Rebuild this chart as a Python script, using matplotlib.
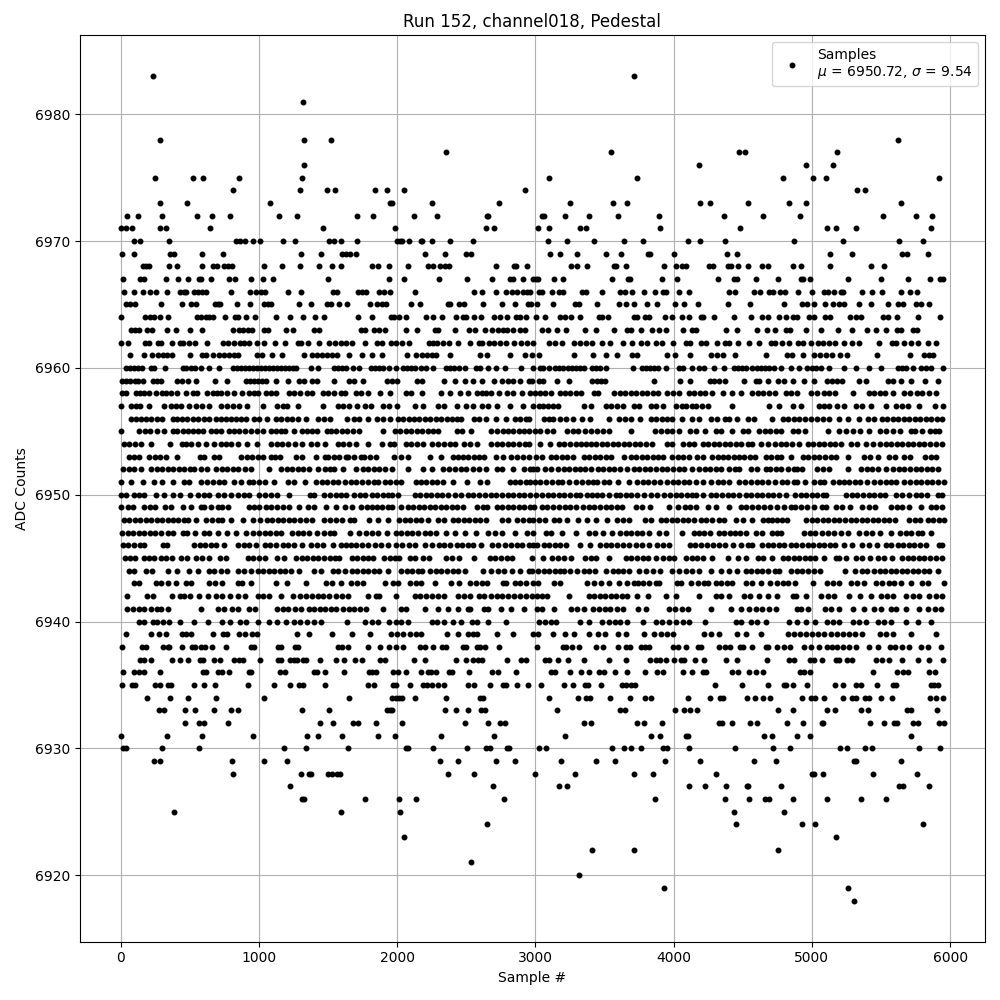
import matplotlib
matplotlib.use('Agg')
import matplotlib.pyplot as plt

# sample numbers, one list per ADC level
s6983 = [236, 3713]
s6981 = [1321]
s6978 = [280, 1328, 1523, 5622]
s6977 = [2355, 3547, 4473, 4516, 5181]
s6976 = [1328, 4183, 4957, 5152]
s6975 = [250, 525, 598, 858, 1313, 3099, 3735, 4790, 5007, 5101, 5918]
s6974 = [815, 1299, 1494, 1552, 1841, 1928, 2051, 2926, 5326, 5384]
s6973 = [280, 482, 1082, 1950, 1964, 2253, 2738, 3251, 3562, 3663, 4190, 4263, 4537, 4834, 4957, 5644]
s6972 = [48, 128, 301, 554, 663, 793, 1147, 1277, 1711, 1827, 2123, 2290, 2651, 2658, 3048, 3063, 3214, 3388,
         3598, 3894, 4364, 4646, 4914, 5514, 5752, 5868]
s6971 = [5, 34, 84, 287, 330, 648, 1465, 1986, 2644, 2697, 3019, 3099, 3323, 3366, 3901, 4480, 5109, 5174, 5318, 5861]
s6970 = [92, 142, 352, 836, 865, 901, 959, 1010, 1176, 1263, 1509, 1545, 1595, 1711, 2000, 2022, 2036, 2087, 2169,
         2181, 2253, 2383, 2550, 3092, 3229, 3424, 3641, 3778, 4104, 4190, 4371, 4870, 5224, 5629, 5805]
s6969 = [12, 99, 359, 388, 590, 740, 1306, 1451, 1603, 1631, 1660, 1704, 2203, 2347, 2499, 2535, 3106, 3178, 3301,
         3511, 3619, 3814, 3828, 4003, 4386, 4458, 5130, 5290, 5651, 5687, 5841]
s6968 = [157, 185, 205, 352, 410, 590, 670, 699, 750, 778, 807, 1039, 1169, 1299, 1436, 1530, 1595, 1820, 1863, 1942,
         2080, 2224, 2260, 2311, 2347, 2376, 2716, 2846, 2861, 2940, 3258, 3301, 3373, 3569, 3583, 3655, 3930, 4017,
         4060, 4089, 4256, 4285, 4393, 4415, 4465, 4537, 4639, 4682, 4862, 4921, 5130, 5427, 5521]
s6967 = [19, 142, 171, 330, 417, 489, 569, 583, 655, 786, 824, 945, 1031, 1104, 1501, 1942, 2051, 2304, 2506, 2687,
         2817, 2839, 2911, 2983, 3005, 3019, 3135, 3200, 3554, 3670, 3684, 3916, 4024, 4321, 4436, 4458, 4595, 4755,
         4921, 4935, 4986, 5261, 5499, 5694, 5853, 5925, 5947]
s6966 = [26, 99, 164, 214, 258, 337, 431, 460, 475, 532, 561, 590, 619, 800, 937, 980, 1017, 1046, 1212, 1306, 1537,
         1566, 1718, 1747, 1776, 1870, 1906, 1950, 2130, 2557, 2615, 2716, 2788, 2832, 2868, 2911, 2940, 2964, 3027,
         3048, 3120, 3171, 3200, 3337, 3366, 3482, 3612, 3648, 3699, 3786, 3866, 3923, 3945, 4039, 4111, 4400, 4443,
         4581, 4624, 4689, 4718, 4769, 4805, 4899, 5000, 5087, 5116, 5159, 5210, 5224, 5362, 5434, 5506, 5644,
         5709, 5760]
s6965 = [34, 63, 106, 294, 446, 511, 547, 684, 706, 720, 843, 937, 1039, 1068, 1089, 1292, 1378, 1494, 1523, 1581,
         1639, 1805, 1856, 1892, 1921, 2101, 2166, 2369, 2383, 2448, 2485, 2622, 2759, 2853, 2947, 2971, 3012, 3128,
         3287, 3316, 3446, 3605, 3655, 3713, 3807, 3880, 4010, 4075, 4176, 4393, 4552, 4798, 4928, 4964, 5015, 5094,
         5152, 5195, 5232, 5340, 5427, 5550, 5622, 5658, 5752, 5788, 5846]
s6964 = [5, 178, 214, 243, 280, 345, 554, 583, 619, 641, 670, 757, 829, 851, 908, 974, 1125, 1227, 1321, 1407, 1472,
         1718, 1820, 1957, 1978, 2015, 2065, 2210, 2260, 2326, 2427, 2477, 2499, 2557, 2608, 2701, 2745, 2796, 2861,
         2889, 2933, 3005, 3070, 3178, 3214, 3258, 3323, 3460, 3482, 3525, 3713, 3735, 3793, 3822, 3937, 3988, 4060,
         4111, 4198, 4212, 4292, 4436, 4559, 4639, 4682, 4762, 4812, 4863, 4892, 4979, 5015, 5094, 5130, 5275, 5318,
         5355, 5514, 5550, 5615, 5767, 5925]
s6963 = [77, 106, 135, 193, 229, 337, 402, 504, 590, 815, 858, 887, 923, 952, 1039, 1068, 1198, 1248, 1400, 1436,
         1740, 1769, 1834, 1870, 1913, 2065, 2145, 2275, 2297, 2420, 2521, 2564, 2637, 2687, 2730, 2767, 2796, 2839,
         2889, 2926, 3048, 3092, 3157, 3222, 3359, 3439, 3569, 3663, 3692, 3764, 3843, 3894, 3945, 4068, 4133, 4161,
         4378, 4458, 4603, 4675, 4733, 4812, 4841, 4957, 5065, 5188, 5290, 5398, 5463, 5535, 5615, 5644, 5730, 5760]
s6962 = [5, 55, 178, 207, 272, 294, 373, 431, 453, 496, 540, 627, 742, 778, 822, 865, 894, 930, 988, 1039, 1118, 1190,
         1284, 1306, 1357, 1436, 1509, 1552, 1595, 1631, 1675, 1769, 1856, 1892, 1957, 1993, 2036, 2087, 2232, 2260,
         2290, 2333, 2376, 2441, 2528, 2593, 2615, 2665, 2701, 2745, 2788, 2846, 2897, 2940, 2983, 3099, 3142, 3190,
         3280, 3323, 3366, 3410, 3482, 3540, 3634, 3699, 3764, 3807, 3872, 3916, 3995, 4089, 4118, 4198, 4234, 4314,
         4371, 4400, 4465, 4545, 4617, 4704, 4733, 4783, 4834, 4899, 4935, 4993, 5044, 5080, 5123, 5166, 5232, 5290,
         5340, 5485, 5579, 5608, 5665, 5716, 5767, 5839, 5897]
s6961 = [70, 171, 229, 272, 308, 337, 373, 504, 590, 619, 670, 713, 750, 786, 822, 851, 988, 1024, 1096, 1169, 1328,
         1385, 1422, 1458, 1494, 1530, 1566, 1653, 1747, 1820, 1892, 2072, 2133, 2181, 2217, 2253, 2282, 2383, 2600,
         2651, 2817, 2926, 2976, 3027, 3280, 3417, 3511, 3590, 3699, 3735, 3952, 4010, 4118, 4270, 4314, 4357, 4443,
         4667, 4820, 4856, 4935, 5015, 5058, 5101, 5145, 5203, 5253, 5470, 5709, 5810, 5846, 5875]
s6960 = [36, 65, 95, 125, 152, 217, 241, 319, 447, 475, 505, 535, 580, 640, 712, 809, 838, 867, 896, 925, 954, 983,
         1012, 1041, 1070, 1099, 1128, 1157, 1186, 1215, 1244, 1268, 1377, 1425, 1541, 1570, 1600, 1630, 1680, 1727,
         1811, 1840, 1870, 1900, 1944, 1992, 2041, 2070, 2100, 2130, 2170, 2210, 2258, 2354, 2384, 2414, 2450, 2487,
         2572, 2600, 2656, 2717, 2777, 2898, 2981, 3036, 3053, 3097, 3145, 3174, 3203, 3232, 3261, 3290, 3319, 3348,
         3411, 3440, 3469, 3507, 3708, 3773, 3802, 3831, 3860, 3890, 3942, 4038, 4067, 4135, 4183, 4220, 4292, 4364,
         4437, 4466, 4495, 4524, 4570, 4606, 4635, 4664, 4693, 4727, 4775, 4847, 4908, 4968, 5000, 5030, 5065, 5125,
         5234, 5318, 5415, 5500, 5620, 5650, 5680, 5729, 5789, 5825, 5862, 5946]
s6959 = [12, 40, 70, 100, 128, 160, 230, 260, 290, 410, 440, 485, 543, 681, 766, 906, 936, 965, 995, 1024, 1053, 1123,
         1210, 1292, 1328, 1385, 1422, 1545, 1654, 1690, 1750, 1929, 1960, 2000, 2140, 2176, 2335, 2420, 2490, 2550,
         2610, 2700, 2760, 2800, 2840, 2886, 2955, 2975, 3025, 3055, 3157, 3242, 3410, 3445, 3475, 3505, 3860, 4043,
         4120, 4260, 4290, 4330, 4375, 4510, 4594, 4619, 4686, 4758, 4799, 4860, 4944, 5015, 5113, 5145, 5180, 5220,
         5342, 5390, 5550, 5590, 5645, 5717, 5818, 5915]
s6958 = [12, 36, 109, 139, 169, 205, 256, 300, 330, 360, 403, 470, 520, 550, 627, 665, 695, 725, 765, 820, 880, 925,
         965, 990, 1054, 1090, 1125, 1220, 1255, 1300, 1345, 1385, 1460, 1500, 1545, 1590, 1620, 1700, 1740, 1785,
         1872, 1945, 2062, 2100, 2176, 2320, 2380, 2454, 2510, 2575, 2610, 2645, 2680, 2735, 2795, 2840, 2905, 2960,
         3000, 3036, 3072, 3110, 3180, 3215, 3250, 3290, 3330, 3425, 3455, 3570, 3610, 3650, 3690, 3730, 3770, 3810,
         3850, 3890, 3950, 3995, 4040, 4110, 4150, 4190, 4230, 4275, 4360, 4420, 4485, 4570, 4610, 4650, 4690, 4735,
         4810, 4850, 4895, 4995, 5040, 5085, 5125, 5165, 5295, 5415, 5450, 5490, 5530, 5585, 5670, 5710, 5760, 5800,
         5850, 5895]
s6957 = [0, 72, 109, 140, 205, 315, 365, 400, 435, 495, 545, 590, 640, 725, 770, 815, 852, 915, 1030, 1130, 1170, 1205,
         1280, 1460, 1570, 1610, 1650, 1710, 1765, 1810, 1900, 1940, 2000, 2125, 2185, 2295, 2335, 2430, 2500, 2545,
         2610, 2660, 2720, 2815, 2910, 2985, 3025, 3055, 3090, 3125, 3160, 3350, 3405, 3510, 3550, 3590, 3630, 3715,
         3750, 3835, 3870, 3920, 4015, 4060, 4090, 4135, 4160, 4205, 4250, 4425, 4690, 4760, 4860, 4920, 5055, 5090,
         5125, 5185, 5235, 5320, 5365, 5430, 5535, 5610, 5650, 5695, 5775, 5890, 5950]
s6956 = [77, 110, 145, 185, 220, 260, 300, 375, 410, 445, 480, 520, 560, 600, 640, 690, 725, 760, 800, 835, 870, 905,
         965, 1000, 1060, 1125, 1160, 1200, 1240, 1280, 1340, 1430, 1470, 1515, 1640, 1690, 1725, 1790, 1855, 1895,
         1945, 2005, 2045, 2085, 2120, 2160, 2200, 2240, 2280, 2320, 2360, 2395, 2435, 2465, 2555, 2595, 2640, 2715,
         2790, 2850, 2890, 2930, 2955, 3060, 3100, 3130, 3180, 3220, 3270, 3340, 3395, 3530, 3605, 3650, 3690, 3755,
         3835, 3875, 3915, 3955, 3990, 4060, 4135, 4185, 4270, 4315, 4375, 4400, 4455, 4535, 4580, 4715, 4790, 4830,
         4870, 4910, 4950, 4995, 5035, 5080, 5125, 5200, 5265, 5340, 5405, 5450, 5510, 5545, 5585, 5625, 5665, 5705,
         5745, 5785, 5825, 5865, 5905, 5945]
s6955 = [0, 135, 175, 210, 260, 315, 375, 410, 450, 485, 520, 555, 595, 650, 690, 725, 785, 820, 855, 900, 940, 985,
         1030, 1085, 1120, 1160, 1190, 1250, 1310, 1345, 1385, 1420, 1490, 1520, 1555, 1600, 1640, 1680, 1725, 1900,
         1985, 2020, 2060, 2100, 2140, 2180, 2220, 2260, 2295, 2430, 2470, 2535, 2680, 2720, 2765, 2805, 2840, 2880,
         2915, 2955, 3000, 3035, 3085, 3125, 3230, 3270, 3310, 3360, 3400, 3445, 3490, 3530, 3690, 3865, 3905, 3950,
         3990, 4040, 4120, 4160, 4230, 4305, 4340, 4425, 4500, 4535, 4620, 4660, 4700, 4740, 4780, 4860, 4900, 4950,
         5115, 5200, 5250, 5300, 5345, 5415, 5490, 5535, 5585, 5640, 5715, 5745, 5800, 5855, 5890, 5920]
s6954 = [24, 60, 100, 145, 215, 355, 440, 470, 510, 560, 615, 675, 725, 760, 800, 845, 910, 985, 1085, 1130, 1165, 1210,
         1260, 1310, 1375, 1420, 1480, 1570, 1610, 1650, 1700, 1790, 1890, 1945, 1980, 2060, 2100, 2140, 2190, 2255,
         2295, 2340, 2380, 2420, 2480, 2530, 2580, 2680, 2720, 2760, 2800, 2840, 2880, 2925, 2950, 3030, 3105, 3170,
         3210, 3250, 3290, 3330, 3365, 3400, 3440, 3480, 3520, 3560, 3600, 3640, 3680, 3720, 3760, 3800, 3840, 3950,
         3990, 4065, 4110, 4150, 4210, 4250, 4290, 4330, 4370, 4410, 4450, 4490, 4535, 4565, 4630, 4680, 4735, 4775,
         4815, 4855, 4905, 4970, 5010, 5050, 5090, 5130, 5170, 5210, 5285, 5330, 5390, 5445, 5495, 5535, 5575, 5615,
         5655, 5695, 5735, 5775, 5815, 5855, 5895, 5945]
s6953 = [60, 95, 130, 205, 245, 285, 330, 410, 570, 605, 675, 710, 870, 910, 950, 990, 1030, 1085, 1115, 1150, 1270,
         1310, 1415, 1475, 1500, 1540, 1580, 1630, 1645, 1690, 1735, 1760, 1800, 1845, 1980, 2025, 2075, 2240, 2315,
         2405, 2440, 2475, 2510, 2555, 2590, 2625, 2715, 2765, 2820, 2865, 2910, 2950, 3005, 3050, 3110, 3150, 3190,
         3230, 3270, 3350, 3390, 3430, 3470, 3510, 3545, 3640, 3690, 3730, 3770, 3810, 3850, 3890, 3920, 3990, 4030,
         4070, 4110, 4170, 4215, 4280, 4320, 4360, 4390, 4440, 4470, 4510, 4555, 4590, 4665, 4705, 4745, 4775, 4850,
         4935, 4975, 5015, 5055, 5095, 5135, 5175, 5260, 5375, 5420, 5480, 5560, 5600, 5665, 5710, 5820, 5860, 5895]
s6952 = [18, 60, 95, 145, 218, 260, 300, 340, 380, 420, 460, 500, 530, 580, 625, 690, 730, 770, 810, 850, 895, 945,
         1075, 1160, 1200, 1240, 1280, 1315, 1365, 1425, 1475, 1510, 1545, 1605, 1700, 1750, 1790, 1830, 1870, 1915,
         1960, 2075, 2185, 2255, 2330, 2375, 2420, 2460, 2500, 2545, 2590, 2645, 2720, 2760, 2835, 2915, 2960, 2985,
         3010, 3070, 3110, 3165, 3205, 3245, 3285, 3320, 3360, 3400, 3450, 3490, 3530, 3570, 3610, 3660, 3710, 3750,
         3790, 3830, 3870, 3915, 3955, 3995, 4040, 4075, 4135, 4185, 4225, 4265, 4305, 4345, 4400, 4445, 4475, 4560,
         4605, 4665, 4700, 4740, 4775, 4825, 4870, 4895, 4930, 5035, 5080, 5125, 5260, 5355, 5400, 5435, 5480, 5540,
         5585, 5630, 5670, 5710, 5750, 5790, 5830, 5870, 5915]
s6951 = [5, 73, 157, 240, 300, 380, 460, 495, 580, 625, 665, 710, 745, 820, 870, 925, 960, 1000, 1040, 1105, 1210,
         1250, 1330, 1415, 1455, 1495, 1535, 1575, 1620, 1665, 1700, 1745, 1790, 1830, 1860, 1910, 1950, 1990, 2025,
         2135, 2175, 2210, 2250, 2290, 2330, 2400, 2505, 2600, 2650, 2815, 2850, 2890, 2930, 2960, 3000, 3030, 3075,
         3120, 3160, 3190, 3245, 3290, 3340, 3380, 3420, 3445, 3495, 3535, 3600, 3680, 3735, 3775, 3815, 3855, 3900,
         3955, 3995, 4035, 4075, 4110, 4160, 4215, 4270, 4320, 4355, 4400, 4475, 4515, 4560, 4600, 4640, 4680, 4735,
         4785, 4820, 4870, 4895, 4950, 5015, 5060, 5090, 5150, 5195, 5230, 5270, 5310, 5350, 5400, 5450, 5495, 5535,
         5575, 5610, 5670, 5710, 5750, 5790, 5830, 5870, 5910, 5955]
s6950 = [5, 40, 97, 135, 170, 255, 315, 375, 425, 500, 560, 600, 640, 700, 745, 795, 850, 890, 930, 1000, 1040,
         1085, 1130, 1215, 1370, 1400, 1473, 1515, 1555, 1590, 1630, 1690, 1730, 1770, 1815, 1855, 1895, 1930, 1965,
         2005, 2125, 2165, 2205, 2245, 2285, 2325, 2370, 2420, 2465, 2510, 2550, 2590, 2635, 2675, 2715, 2760, 2800,
         2840, 2880, 2920, 2958, 3005, 3045, 3090, 3130, 3170, 3210, 3250, 3290, 3325, 3370, 3410, 3445, 3480, 3530,
         3580, 3615, 3655, 3690, 3735, 3785, 3835, 3880, 3930, 3975, 4015, 4055, 4095, 4130, 4160, 4210, 4270,
         4310, 4350, 4390, 4430, 4470, 4520, 4560, 4600, 4640, 4680, 4720, 4760, 4810, 4880, 4920, 4960, 5000, 5040,
         5080, 5105, 5250, 5290, 5330, 5370, 5410, 5450, 5490, 5530, 5610, 5650, 5700, 5750, 5790, 5830, 5910, 5945]
s6949 = [0, 50, 85, 170, 210, 250, 320, 365, 448, 510, 580, 600, 650, 700, 735, 775, 930, 965, 1000, 1050, 1090, 1130,
         1170, 1215, 1290, 1355, 1400, 1485, 1555, 1620, 1675, 1740, 1780, 1815, 1855, 1890, 1930, 1965, 2030, 2075,
         2115, 2155, 2195, 2235, 2275, 2315, 2355, 2395, 2435, 2475, 2575, 2620, 2650, 2720, 2760, 2800, 2840, 2880,
         2920, 2958, 2990, 3050, 3085, 3130, 3170, 3215, 3250, 3295, 3345, 3385, 3425, 3470, 3510, 3550, 3590, 3625,
         3725, 3770, 3830, 3965, 4035, 4085, 4120, 4160, 4245, 4310, 4400, 4485, 4525, 4565, 4610, 4655, 4695, 4750,
         4800, 4850, 4880, 4920, 4965, 5015, 5075, 5100, 5175, 5215, 5275, 5365, 5410, 5460, 5575, 5615, 5655, 5700,
         5790, 5865, 5900, 5945]
s6948 = [24, 60, 100, 140, 180, 220, 260, 300, 340, 375, 415, 455, 485, 545, 620, 660, 700, 735, 795, 885, 960, 1010,
         1055, 1095, 1135, 1175, 1215, 1255, 1300, 1340, 1380, 1470, 1515, 1555, 1600, 1660, 1690, 1795, 1860, 1930,
         2015, 2055, 2095, 2135, 2175, 2225, 2295, 2340, 2400, 2440, 2480, 2520, 2560, 2600, 2640, 2760, 2805, 2870,
         2910, 2950, 2985, 3025, 3070, 3135, 3170, 3230, 3305, 3370, 3440, 3520, 3590, 3635, 3680, 3795, 3835, 3905,
         3945, 3985, 4025, 4065, 4105, 4145, 4195, 4235, 4280, 4330, 4365, 4450, 4505, 4570, 4645, 4680, 4715, 4745,
         4785, 4820, 4960, 5000, 5040, 5080, 5120, 5160, 5200, 5240, 5280, 5320, 5360, 5400, 5440, 5480, 5520, 5560,
         5600, 5705, 5745, 5785, 5840, 5880, 5920, 5955]
s6947 = [12, 50, 90, 130, 170, 210, 250, 290, 340, 380, 450, 480, 540, 605, 640, 700, 765, 830, 905, 960, 1000, 1040,
         1080, 1120, 1160, 1240, 1280, 1320, 1365, 1420, 1470, 1510, 1545, 1655, 1720, 1775, 1815, 1860, 1925, 1990,
         2030, 2070, 2110, 2150, 2200, 2235, 2283, 2350, 2415, 2490, 2570, 2660, 2705, 2755, 2850, 2940, 2985, 3075,
         3115, 3190, 3295, 3385, 3430, 3490, 3555, 3615, 3655, 3695, 3735, 3770, 3825, 3895, 3945, 4060, 4145, 4180,
         4220, 4265, 4325, 4365, 4405, 4445, 4480, 4520, 4595, 4640, 4710, 4750, 4775, 4940, 4985, 5020, 5075, 5115,
         5160, 5210, 5265, 5340, 5390, 5435, 5490, 5575, 5640, 5680, 5720, 5765, 5800, 5860]
s6946 = [17, 55, 95, 140, 165, 305, 335, 530, 570, 610, 650, 690, 747, 850, 890, 930, 975, 1040, 1080, 1125, 1170,
         1210, 1255, 1310, 1375, 1420, 1465, 1535, 1590, 1630, 1665, 1700, 1745, 1785, 1840, 1885, 1930, 1990,
         2035, 2085, 2125, 2200, 2250, 2300, 2340, 2380, 2430, 2470, 2510, 2550, 2605, 2685, 2730, 2780, 2825, 2870,
         2905, 2950, 2985, 3010, 3060, 3100, 3140, 3180, 3220, 3320, 3395, 3465, 3510, 3550, 3590, 3630, 3675, 3725,
         3770, 3820, 3880, 3920, 3965, 4115, 4155, 4195, 4240, 4285, 4330, 4375, 4430, 4485, 4535, 4570, 4640, 4680,
         4720, 4760, 4800, 4850, 4885, 4930, 4970, 5010, 5050, 5090, 5130, 5170, 5230, 5290, 5365, 5415, 5470, 5535,
         5575, 5620, 5660, 5700, 5740, 5780, 5825, 5920, 5945]
s6945 = [32, 70, 105, 170, 205, 240, 290, 330, 370, 435, 480, 545, 590, 635, 720, 760, 920, 960, 1000, 1040, 1130, 1180,
         1270, 1310, 1350, 1390, 1430, 1470, 1510, 1550, 1580, 1670, 1710, 1750, 1790, 1825, 1905, 1950, 1985, 2010,
         2090, 2130, 2185, 2230, 2355, 2395, 2450, 2555, 2670, 2710, 2750, 2795, 2830, 2975, 3055, 3120, 3160, 3205,
         3260, 3360, 3405, 3435, 3535, 3655, 3695, 3735, 3775, 3815, 3870, 3920, 3965, 4000, 4090, 4130, 4170, 4210,
         4275, 4390, 4465, 4520, 4610, 4650, 4715, 4790, 4830, 4870, 4910, 4950, 4990, 5025, 5085, 5175, 5200, 5250,
         5320, 5365, 5420, 5475, 5525, 5580, 5655, 5695, 5735, 5775, 5815, 5855, 5895, 5945]
s6944 = [60, 95, 180, 225, 340, 410, 495, 555, 640, 675, 725, 770, 845, 890, 945, 990, 1030, 1070, 1110, 1150, 1190,
         1230, 1292, 1400, 1450, 1535, 1570, 1625, 1670, 1710, 1750, 1790, 1830, 1870, 1935, 2030, 2070, 2110, 2150,
         2180, 2240, 2280, 2320, 2360, 2400, 2440, 2490, 2620, 2680, 2730, 2770, 2830, 2890, 2950, 2975, 3020, 3060,
         3100, 3140, 3180, 3210, 3250, 3300, 3350, 3390, 3430, 3510, 3560, 3600, 3630, 3680, 3750, 3800, 3850, 3900,
         3990, 4040, 4090, 4130, 4180, 4270, 4340, 4400, 4460, 4520, 4560, 4600, 4640, 4680, 4730, 4760, 4850, 4890,
         4930, 4970, 5015, 5060, 5240, 5315, 5365, 5400, 5450, 5490, 5530, 5570, 5610, 5650, 5690, 5730, 5770, 5810,
         5850, 5910]
s6943 = [97, 135, 253, 290, 338, 398, 475, 510, 640, 680, 730, 845, 880, 945, 1120, 1200, 1340, 1485, 1530, 1590, 1665,
         1710, 1755, 1915, 1970, 2005, 2090, 2135, 2175, 2270, 2390, 2445, 2525, 2570, 2610, 2650, 2765, 2790, 2855,
         2890, 2935, 2985, 3020, 3135, 3180, 3375, 3425, 3475, 3530, 3605, 3660, 3715, 3740, 3780, 3825, 3870, 3895,
         4025, 4050, 4125, 4175, 4220, 4245, 4305, 4345, 4385, 4425, 4520, 4565, 4630, 4695, 4750, 4790, 4830, 4880,
         5010, 5110, 5155, 5200, 5280, 5330, 5375, 5465, 5510, 5560, 5595, 5645, 5720, 5795, 5840, 5955]
s6942 = [42, 193, 233, 367, 425, 460, 500, 565, 632, 690, 735, 790, 845, 900, 990, 1030, 1070, 1160, 1245, 1300, 1340,
         1385, 1425, 1465, 1505, 1560, 1600, 1645, 1785, 1850, 1870, 1990, 2125, 2165, 2210, 2250, 2295, 2335, 2440,
         2480, 2525, 2590, 2630, 2680, 2720, 2760, 2800, 2845, 2885, 2930, 2975, 3010, 3045, 3085, 3245, 3385, 3425,
         3465, 3505, 3545, 3585, 3625, 3665, 3735, 3815, 3945, 4020, 4185, 4305, 4345, 4400, 4510, 4555, 4620, 4680,
         4745, 4860, 4885, 4960, 5065, 5115, 5160, 5270, 5350, 5425, 5500, 5545, 5585, 5680, 5730, 5775, 5850, 5895,
         5945]
s6941 = [48, 90, 130, 170, 215, 260, 290, 340, 580, 700, 750, 805, 850, 930, 970, 1130, 1170, 1210, 1260, 1305, 1360,
         1400, 1440, 1480, 1520, 1556, 1605, 1650, 1690, 1730, 1775, 1900, 2030, 2065, 2200, 2295, 2365, 2440, 2510,
         2530, 2630, 2655, 2750, 2820, 2920, 3012, 3050, 3133, 3260, 3300, 3350, 3417, 3460, 3500, 3540, 3590, 3635,
         3745, 3800, 3965, 4010, 4060, 4105, 4270, 4415, 4490, 4545, 4595, 4640, 4690, 4740, 4895, 4920, 4975,
         5096, 5140, 5195, 5295, 5380, 5450, 5500, 5575, 5610, 5680, 5775, 5840, 5890, 5935]
s6940 = [133, 170, 230, 265, 302, 350, 430, 530, 630, 735, 790, 860, 905, 990, 1075, 1130, 1195, 1255, 1300, 1350, 1400,
         1445, 1640, 1765, 1820, 1860, 1940, 1990, 2030, 2075, 2250, 2290, 2335, 2400, 2460, 2540, 2575, 2660, 2785,
         3025, 3070, 3110, 3150, 3325, 3385, 3485, 3530, 3575, 3615, 3665, 3775, 3870, 3915, 3965, 4020, 4070, 4110,
         4230, 4450, 4485, 4560, 4605, 4665, 4835, 4895, 4955, 5025, 5110, 5155, 5200, 5295, 5340, 5390, 5475, 5520,
         5575, 5680, 5765, 5860]
s6939 = [36, 217, 277, 325, 440, 475, 505, 665, 740, 770, 858, 900, 950, 985, 1272, 1360, 1530, 1675, 1805, 1955, 2000,
         2045, 2090, 2135, 2175, 2360, 2440, 2510, 2550, 2580, 2720, 2840, 2985, 3018, 3128, 3215, 3280, 3387, 3450,
         3500, 3599, 3652, 3785, 3860, 3905, 3950, 3995, 4220, 4270, 4330, 4460, 4525, 4635, 4825, 4870, 4915, 4960,
         5000, 5045, 5090, 5135, 5180, 5225, 5270, 5315, 5360, 5490, 5535, 5585, 5720, 5900]
s6938 = [12, 150, 179, 302, 338, 352, 440, 512, 534, 577, 606, 657, 758, 939, 961, 1135, 1157, 1258, 1280, 1570, 1599,
         1642, 1787, 1874, 1939, 1990, 2041, 2164, 2200, 2258, 2323, 2352, 2475, 2497, 2577, 2598, 2635, 2736, 3012,
         3200, 3222, 3266, 3316, 3440, 3490, 3599, 3657, 3686, 3766, 3795, 3824, 3997, 4034, 4092, 4179, 4200, 4331,
         4374, 4410, 4483, 4505, 4570, 4671, 4686, 4751, 4802, 4845, 4946, 4997, 5055, 5106, 5149, 5185, 5222, 5272,
         5316, 5410, 5475, 5569, 5598, 5649, 5700, 5787, 5838, 5932]
s6937 = [142, 171, 215, 367, 425, 483, 570, 592, 671, 715, 816, 852, 881, 1005, 1135, 1157, 1222, 1251, 1273, 1316,
         1338, 1439, 1555, 1613, 1693, 1744, 1874, 1910, 2120, 2200, 2425, 2497, 2548, 2584, 2613, 2794, 2896, 2932,
         3070, 3099, 3164, 3237, 3353, 3534, 3657, 3831, 3874, 3903, 3947, 4005, 4055, 4077, 4157, 4222, 4381, 4461,
         4678, 4838, 4874, 4983, 5019, 5070, 5178, 5200, 5251, 5287, 5461, 5504, 5555, 5649, 5765, 5845, 5946]
s6936 = [19, 92, 135, 171, 287, 592, 613, 700, 729, 780, 925, 939, 1150, 1186, 1396, 1418, 1476, 1613, 1794, 1816,
         1845, 1968, 2004, 2062, 2171, 2222, 2244, 2280, 2374, 2396, 2519, 2686, 2729, 2859, 3114, 3142, 3251, 3331,
         3389, 3461, 3497, 3577, 3664, 3795, 3882, 3925, 4070, 4135, 4215, 4236, 4425, 4468, 4548, 4599, 4650, 4917,
         4946, 4990, 5446, 5613, 5656, 5693, 5845, 5888]
s6935 = [12, 84, 106, 251, 287, 338, 360, 526, 599, 679, 918, 1106, 1222, 1287, 1316, 1476, 1787, 1831, 1968, 1990,
         2091, 2186, 2215, 2251, 2294, 2338, 2512, 2555, 2671, 2765, 2787, 2867, 2946, 3041, 3208, 3273, 3360, 3382,
         3476, 3628, 3657, 3693, 3722, 4302, 4497, 4686, 4802, 4816, 4860, 4968, 5171, 5222, 5316, 5359, 5468, 5584,
         5606, 5860, 5881, 5910]
s6934 = [193, 353, 483, 686, 1034, 1649, 1961, 1990, 2012, 2033, 2128, 2352, 2598, 2620, 3099, 3309, 3367, 3396, 3541,
         3686, 3795, 3838, 4106, 4265, 4338, 4360, 4534, 4592, 4650, 4700, 4932, 4997, 5026, 5091, 5222, 5294, 5323,
         5381, 5410, 5497, 5577, 5852, 5896, 5946]
s6933 = [273, 316, 468, 534, 671, 795, 845, 1309, 1505, 1925, 1946, 1961, 2345, 2425, 2512, 2606, 2635, 3157, 3613,
         3650, 4012, 4077, 4121, 4171, 4758, 4867, 5106, 5171, 5352, 5403, 5686, 5715, 5903]
s6932 = [461, 563, 599, 773, 1439, 1533, 1678, 1715, 1845, 2033, 2490, 2656, 2743, 2780, 3353, 3403, 3736, 3787, 3918,
         4331, 4353, 4425, 4555, 4606, 4823, 4939, 5070, 5084, 5418, 5519, 5592, 5613, 5729, 5765, 5917, 5953]
s6931 = [5, 331, 584, 954, 1345, 1425, 1599, 1860, 1983, 2316, 2700, 3215, 3838, 3903, 4092, 4106, 4657, 4715, 4896,
         4983, 5714]
s6930 = [19, 41, 295, 563, 1179, 1338, 1642, 2062, 2077, 2258, 2504, 2642, 2671, 2794, 2809, 3027, 3077, 3555, 3642,
         3693, 3765, 3925, 3954, 4113, 4447, 4722, 4845, 5207, 5251, 5381, 5432, 5772, 5925]
s6929 = [237, 280, 802, 1034, 1200, 2309, 2439, 2715, 2852, 3186, 3440, 3577, 3939, 4193, 4584, 4744, 5302, 5323, 5642]
s6928 = [809, 1302, 1360, 1374, 1497, 1526, 1562, 1584, 2367, 2555, 2998, 3287, 3715, 3852, 4309, 5004, 5019, 5084,
         5439, 5758]
s6927 = [1222, 2693, 3171, 3229, 4113, 4229, 4381, 4534, 4541, 4780, 5628, 5656, 5845]
s6926 = [1310, 1323, 1765, 2012, 2135, 2772, 3867, 4374, 4548, 4664, 4693, 4867, 5106, 5352, 5533]
s6925 = [382, 1592, 2019, 4439, 4802]
s6924 = [2649, 4454, 4932, 5026, 5801]
s6923 = [2048, 5178]
s6922 = [3410, 3715, 4758]
s6921 = [2533]
s6920 = [3316]
s6919 = [3932, 5258]
s6918 = [5302]

levels = {
    6983: s6983, 6981: s6981, 6978: s6978, 6977: s6977, 6976: s6976, 6975: s6975, 6974: s6974, 6973: s6973,
    6972: s6972, 6971: s6971, 6970: s6970, 6969: s6969, 6968: s6968, 6967: s6967, 6966: s6966, 6965: s6965,
    6964: s6964, 6963: s6963, 6962: s6962, 6961: s6961, 6960: s6960, 6959: s6959, 6958: s6958, 6957: s6957,
    6956: s6956, 6955: s6955, 6954: s6954, 6953: s6953, 6952: s6952, 6951: s6951, 6950: s6950, 6949: s6949,
    6948: s6948, 6947: s6947, 6946: s6946, 6945: s6945, 6944: s6944, 6943: s6943, 6942: s6942, 6941: s6941,
    6940: s6940, 6939: s6939, 6938: s6938, 6937: s6937, 6936: s6936, 6935: s6935, 6934: s6934, 6933: s6933,
    6932: s6932, 6931: s6931, 6930: s6930, 6929: s6929, 6928: s6928, 6927: s6927, 6926: s6926, 6925: s6925,
    6924: s6924, 6923: s6923, 6922: s6922, 6921: s6921, 6920: s6920, 6919: s6919, 6918: s6918,
}

samples = []
counts = []
for adc, xs in levels.items():
    samples += xs
    counts += [adc] * len(xs)

fig = plt.figure(figsize=(10, 10))
plt.plot(samples, counts, 'k.', ms=6.5, label='Samples\n$\\mu$ = 6950.72, $\\sigma$ = 9.54')
plt.title('Run 152, channel018, Pedestal')
plt.xlabel('Sample #')
plt.ylabel('ADC Counts')
plt.grid(True)
plt.legend(loc='upper right')
plt.tight_layout()
# reference axes sit a little higher than tight_layout leaves them
fig.subplots_adjust(top=0.965)
plt.savefig('out.png', dpi=100)
